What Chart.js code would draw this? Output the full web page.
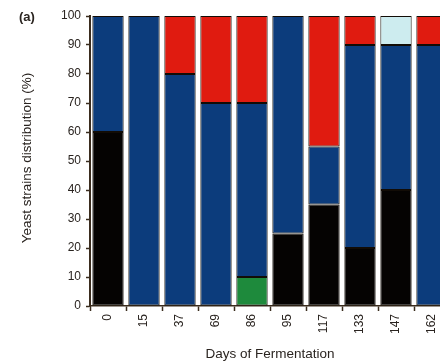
<!DOCTYPE html>
<html>
<head>
<meta charset="utf-8">
<script src="https://cdn.jsdelivr.net/npm/chart.js@4/dist/chart.umd.min.js"></script>
<style>
  html, body { margin: 0; padding: 0; background: #fff; overflow: hidden; }
  #wrap { width: 460px; height: 364px; }
</style>
</head>
<body>
<div id="wrap"><canvas id="c" width="460" height="364"></canvas></div>
<script>
// Days of fermentation (categories)
const days = ['0', '15', '37', '69', '86', '95', '117', '133', '147', '162'];

// Share of each yeast strain group per sampling day (%), stacked bottom to top
const strainBlack = [60, null, null, null, null, 25, 35, 20, 40, null];
const strainGreen = [null, null, null, null, 10, null, null, null, null, null];
const strainBlue  = [40, 100, 80, 70, 60, 75, 20, 70, 50, 90];
const strainRed   = [null, null, 20, 30, 30, null, 45, 10, null, 10];
const strainCyan  = [null, null, null, null, null, null, null, null, 10, null];

// Y axis tick values
const yTicks = [0, 10, 20, 30, 40, 50, 60, 70, 80, 90, 100];

const axisColor = '#3a2c1e';
const textColor = '#2a2420';
const fontFamily = '"Liberation Sans", Arial, sans-serif';

function seg(data, color) {
  return {
    data: data,
    backgroundColor: color,
    borderColor: '#120c06',
    borderWidth: 1,
    borderSkipped: false,
    barPercentage: 0.87,
    categoryPercentage: 1.0
  };
}

// Panel letter and y axis title
const annotations = {
  id: 'annotations',
  afterDraw(chart) {
    const ctx = chart.ctx;
    ctx.save();
    ctx.fillStyle = textColor;
    ctx.font = 'bold 13px ' + fontFamily;
    ctx.textAlign = 'left';
    ctx.textBaseline = 'middle';
    ctx.fillText('(a)', 19, 17);

    ctx.font = '13.5px ' + fontFamily;
    ctx.translate(27, 158);
    ctx.rotate(-Math.PI / 2);
    ctx.textAlign = 'center';
    ctx.textBaseline = 'middle';
    ctx.fillText('Yeast strains distribution (%)', 0, 0);
    ctx.restore();
  }
};

new Chart(document.getElementById('c'), {
  type: 'bar',
  data: {
    labels: days,
    datasets: [
      seg(strainBlack, '#050302'),
      seg(strainGreen, '#1e8a3c'),
      seg(strainBlue, '#0c3c7c'),
      seg(strainRed, '#e01b10'),
      seg(strainCyan, '#cdecef')
    ]
  },
  options: {
    responsive: false,
    animation: false,
    devicePixelRatio: 1,
    layout: { padding: { top: 16, right: 10, left: 0, bottom: 0 } },
    plugins: { legend: { display: false }, tooltip: { enabled: false } },
    scales: {
      x: {
        stacked: true,
        grid: {
          display: true,
          drawOnChartArea: false,
          drawTicks: true,
          tickLength: 5,
          tickWidth: 1.5,
          tickColor: axisColor,
          offset: true
        },
        border: { display: true, color: axisColor, width: 1.5 },
        ticks: {
          minRotation: 90,
          maxRotation: 90,
          padding: 3,
          color: textColor,
          font: { family: fontFamily, size: 12 }
        },
        title: {
          display: true,
          text: 'Days of Fermentation',
          color: textColor,
          font: { family: fontFamily, size: 13.5 },
          padding: { top: 0, bottom: 2 }
        },
        afterFit(scale) { scale.height = 58; }
      },
      y: {
        stacked: true,
        min: 0,
        max: 100,
        afterBuildTicks(scale) { scale.ticks = yTicks.map(v => ({ value: v })); },
        grid: {
          display: true,
          drawOnChartArea: false,
          drawTicks: true,
          tickLength: 4,
          tickWidth: 1.5,
          tickColor: axisColor
        },
        border: { display: true, color: axisColor, width: 2 },
        ticks: {
          padding: 5,
          color: textColor,
          font: { family: fontFamily, size: 12 }
        },
        afterFit(scale) { scale.width = 90; }
      }
    }
  },
  plugins: [annotations]
});
</script>
</body>
</html>
